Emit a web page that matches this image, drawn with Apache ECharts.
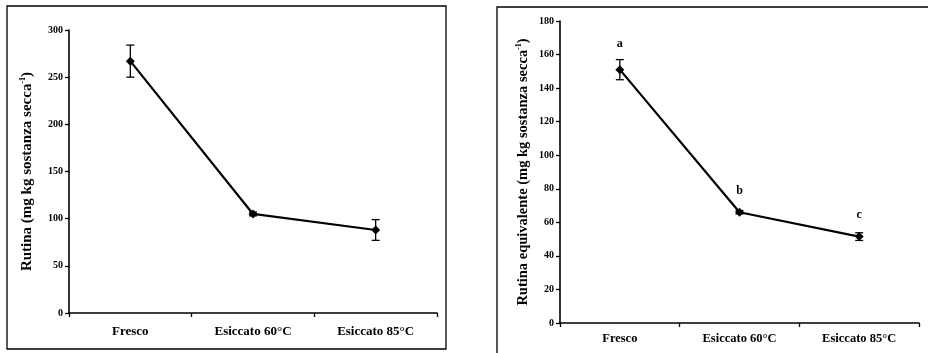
<!DOCTYPE html>
<html>
<head>
<meta charset="utf-8">
<script src="https://cdn.jsdelivr.net/npm/echarts@6/dist/echarts.min.js"></script>
<style>
  html, body { margin: 0; padding: 0; background: #fff; }
  #chartArea { width: 928px; height: 353px; }
</style>
</head>
<body>
<div id="chartArea"></div>
<script>
// data
var categories = ['Fresco', 'Esiccato 60°C', 'Esiccato 85°C'];
var rutina = [267, 105, 88];
var rutinaErr = [17, 2, 11];
var rutinaEq = [151, 66, 51.5];
var rutinaEqErr = [6, 1, 2.3];
var letters = ['a', 'b', 'c'];

var chartDom = document.getElementById('chartArea');
var myChart = echarts.init(chartDom);
var serif = '"Liberation Serif", "DejaVu Serif", serif';

function errorSeries(idx, vals, errs) {
    var data = [];
    for (var i = 0; i < vals.length; i++) {
        data.push([i, vals[i] - errs[i], vals[i] + errs[i]]);
    }
    return {
        type: 'custom',
        xAxisIndex: idx,
        yAxisIndex: idx,
        data: data,
        z: 1,
        renderItem: function (params, api) {
            var lo = api.coord([api.value(0), api.value(1)]);
            var hi = api.coord([api.value(0), api.value(2)]);
            var w = 4;
            var st = { stroke: '#000', lineWidth: 1.3 };
            return {
                type: 'group',
                children: [
                    { type: 'line', shape: { x1: lo[0], y1: lo[1], x2: hi[0], y2: hi[1] }, style: st },
                    { type: 'line', shape: { x1: lo[0] - w, y1: lo[1], x2: lo[0] + w, y2: lo[1] }, style: st },
                    { type: 'line', shape: { x1: hi[0] - w, y1: hi[1], x2: hi[0] + w, y2: hi[1] }, style: st }
                ]
            };
        }
    };
}

function xAxisOpt(idx, labelMargin, size) {
    return {
        type: 'category',
        gridIndex: idx,
        data: categories,
        boundaryGap: true,
        axisLine: { lineStyle: { color: '#000', width: 1.6 } },
        axisTick: { show: true, length: 4, inside: false, lineStyle: { color: '#000', width: 1.3 } },
        axisLabel: { color: '#000', fontFamily: serif, fontWeight: 'bold', fontSize: size, margin: labelMargin }
    };
}

function yAxisOpt(idx, max, interval, nameGap, nameSize) {
    return {
        type: 'value',
        gridIndex: idx,
        min: 0,
        max: max,
        interval: interval,
        splitLine: { show: false },
        axisLine: { show: true, lineStyle: { color: '#000', width: 1.6 } },
        axisTick: { show: true, length: 4, lineStyle: { color: '#000', width: 1.3 } },
        axisLabel: { color: '#000', fontFamily: serif, fontWeight: 'bold', fontSize: 10, margin: 6 },
        name: idx === 0 ? 'Rutina (mg kg sostanza secca{sup|-1})' : 'Rutina equivalente (mg kg sostanza secca{sup|-1})',
        nameLocation: 'middle',
        nameRotate: 90,
        nameGap: nameGap,
        nameTextStyle: {
            color: '#000', fontFamily: serif, fontWeight: 'bold', fontSize: nameSize,
            rich: {
                sup: { fontSize: 8, fontFamily: serif, fontWeight: 'bold', color: '#000', verticalAlign: 'top', padding: [0, 0, 8, 0] }
            }
        }
    };
}

var option = {
    animation: false,
    backgroundColor: '#fff',
    graphic: [
        { type: 'rect', shape: { x: 7, y: 6, width: 439, height: 343 }, style: { fill: 'none', stroke: '#000', lineWidth: 1.3 } },
        { type: 'rect', shape: { x: 497, y: 7, width: 440, height: 360 }, style: { fill: 'none', stroke: '#000', lineWidth: 1.3 } }
    ],
    grid: [
        { left: 69, top: 30, right: 491, bottom: 40 },
        { left: 560, top: 21, right: 9, bottom: 30 }
    ],
    xAxis: [xAxisOpt(0, 12, 13), xAxisOpt(1, 9, 12.5)],
    yAxis: [yAxisOpt(0, 300, 50, 34, 15), yAxisOpt(1, 180, 20, 29, 14.5)],
    series: [
        errorSeries(0, rutina, rutinaErr),
        {
            type: 'line',
            xAxisIndex: 0,
            yAxisIndex: 0,
            data: rutina,
            symbol: 'diamond',
            symbolSize: 9,
            lineStyle: { color: '#000', width: 2.2 },
            itemStyle: { color: '#000' },
            z: 2
        },
        errorSeries(1, rutinaEq, rutinaEqErr),
        {
            type: 'line',
            xAxisIndex: 1,
            yAxisIndex: 1,
            data: rutinaEq.map(function (v, i) {
                return { value: v, label: { distance: i === 0 ? 15 : 11 } };
            }),
            symbol: 'diamond',
            symbolSize: 9,
            lineStyle: { color: '#000', width: 2.2 },
            itemStyle: { color: '#000' },
            label: {
                show: true,
                position: 'top',
                formatter: function (p) { return letters[p.dataIndex]; },
                color: '#000',
                fontFamily: serif,
                fontWeight: 'bold',
                fontSize: 12
            },
            z: 2
        }
    ]
};

option && myChart.setOption(option);
</script>
</body>
</html>
